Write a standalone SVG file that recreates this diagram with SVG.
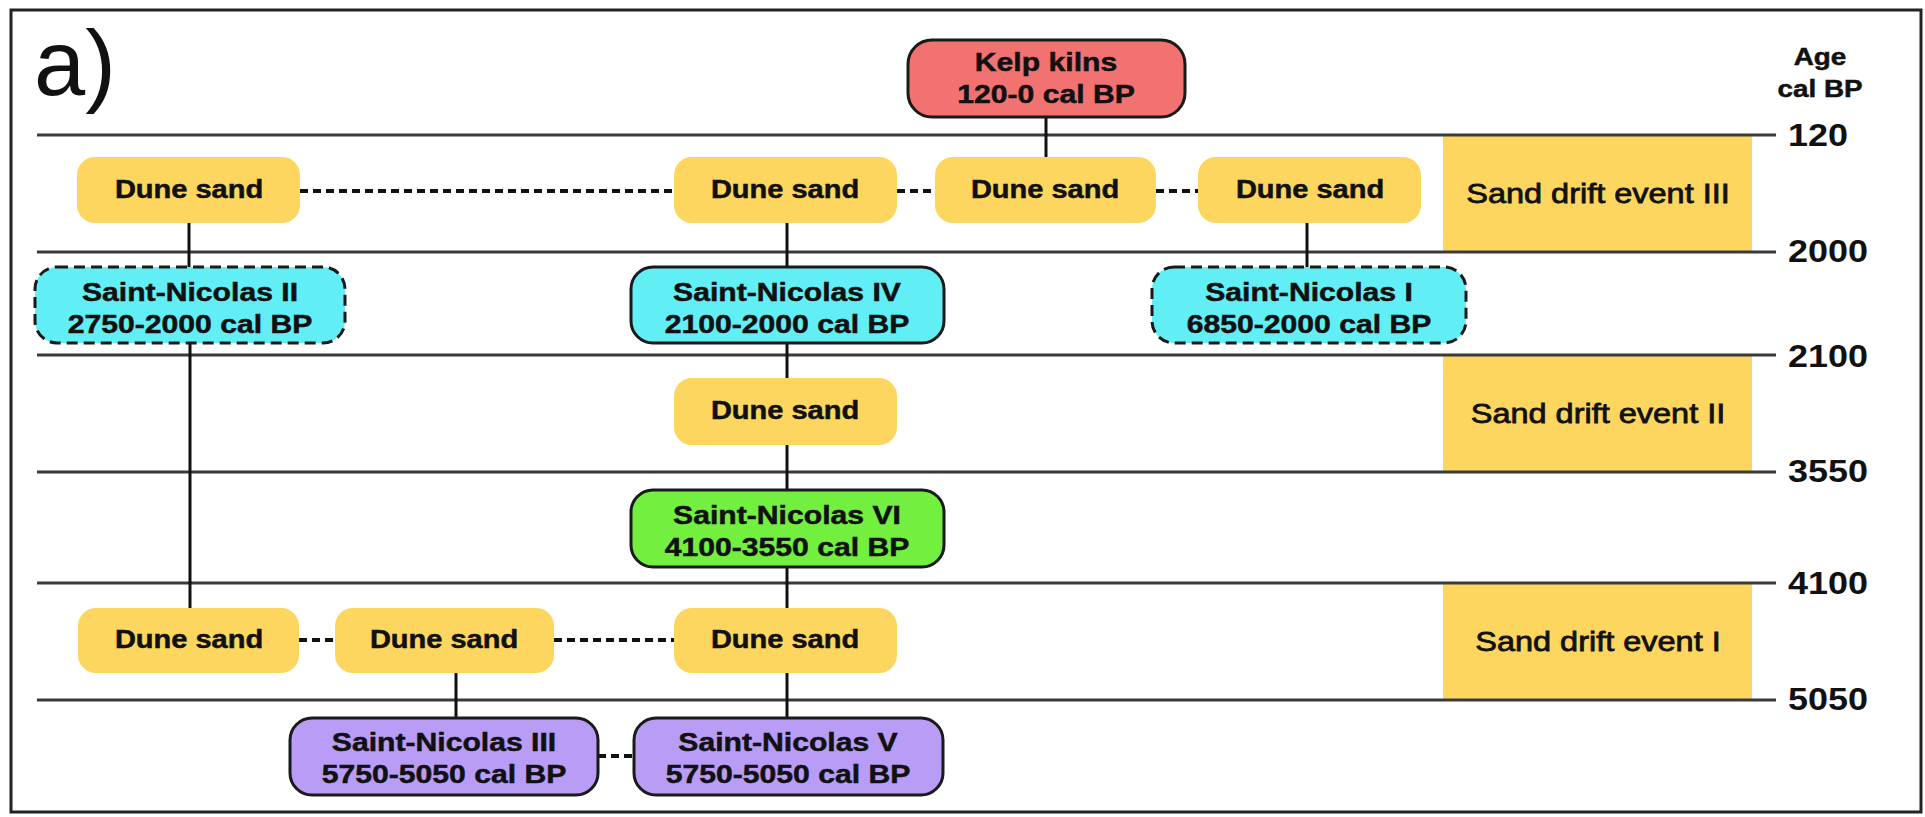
<svg xmlns="http://www.w3.org/2000/svg" width="1925" height="817" viewBox="0 0 1925 817">
<style>
.b{font-family:"Liberation Sans",Arial,sans-serif;font-weight:bold;font-size:26px;text-anchor:middle;fill:#111;stroke:#111;stroke-width:0.5}
.n{font-family:"Liberation Sans",Arial,sans-serif;font-weight:normal;font-size:28px;text-anchor:middle;fill:#111;stroke:#111;stroke-width:0.8}
.age{font-family:"Liberation Sans",Arial,sans-serif;font-weight:bold;font-size:31px;fill:#111}
.sand{fill:#fcd65e}
.cy{fill:#62eef5;stroke:#1a1a1a;stroke-width:3}
.dash{stroke-dasharray:11 6}
.grid{stroke:#3a3a3a;stroke-width:3}
.solid{stroke:#111;stroke-width:3;fill:none}
.dot{stroke:#111;stroke-width:4;stroke-dasharray:8 5;fill:none}
</style>
<rect x="0" y="0" width="1925" height="817" fill="#fff"/>
<rect x="11" y="10" width="1910" height="802" fill="none" stroke="#222" stroke-width="3"/>
<text x="34" y="95" font-family="Liberation Sans,Arial,sans-serif" font-size="92" fill="#111">a)</text>

<g id="timeline">
<rect x="1443" y="135" width="309" height="117" class="sand"/>
<rect x="1443" y="355" width="309" height="117" class="sand"/>
<rect x="1443" y="583" width="309" height="117" class="sand"/>
<line x1="37" y1="135" x2="1776" y2="135" class="grid"/>
<line x1="37" y1="252" x2="1776" y2="252" class="grid"/>
<line x1="37" y1="355" x2="1776" y2="355" class="grid"/>
<line x1="37" y1="472" x2="1776" y2="472" class="grid"/>
<line x1="37" y1="583" x2="1776" y2="583" class="grid"/>
<line x1="37" y1="700" x2="1776" y2="700" class="grid"/>
<text class="n" transform="translate(1598,203) scale(1.16,1)">Sand drift event III</text>
<text class="n" transform="translate(1598,423) scale(1.16,1)">Sand drift event II</text>
<text class="n" transform="translate(1598,651) scale(1.16,1)">Sand drift event I</text>
<text class="b" style="font-size:24px" transform="translate(1820,65) scale(1.16,1)">Age</text>
<text class="b" style="font-size:24px" transform="translate(1820,97) scale(1.16,1)">cal BP</text>
<text class="age" transform="translate(1788,146) scale(1.16,1)">120</text>
<text class="age" transform="translate(1788,262) scale(1.16,1)">2000</text>
<text class="age" transform="translate(1788,367) scale(1.16,1)">2100</text>
<text class="age" transform="translate(1788,482) scale(1.16,1)">3550</text>
<text class="age" transform="translate(1788,594) scale(1.16,1)">4100</text>
<text class="age" transform="translate(1788,710) scale(1.16,1)">5050</text>
</g>

<g id="connectors">
<line x1="1046" y1="117" x2="1046" y2="157" class="solid"/>
<line x1="300" y1="191" x2="674" y2="191" class="dot"/>
<line x1="897" y1="191" x2="935" y2="191" class="dot"/>
<line x1="1156" y1="191" x2="1198" y2="191" class="dot"/>
<line x1="189" y1="223" x2="189" y2="267" class="solid"/>
<line x1="787" y1="223" x2="787" y2="267" class="solid"/>
<line x1="1307" y1="223" x2="1307" y2="267" class="solid"/>
<line x1="190" y1="343" x2="190" y2="608" class="solid"/>
<line x1="787" y1="343" x2="787" y2="378" class="solid"/>
<line x1="787" y1="445" x2="787" y2="490" class="solid"/>
<line x1="787" y1="567" x2="787" y2="608" class="solid"/>
<line x1="299" y1="640" x2="335" y2="640" class="dot"/>
<line x1="554" y1="640" x2="674" y2="640" class="dot"/>
<line x1="456" y1="673" x2="456" y2="718" class="solid"/>
<line x1="787" y1="673" x2="787" y2="718" class="solid"/>
<line x1="598" y1="756" x2="634" y2="756" class="dot"/>
</g>

<g id="kelp">
<rect x="908" y="40" width="277" height="77" rx="24" fill="#f27272" stroke="#1a1a1a" stroke-width="3"/>
<text class="b" transform="translate(1046,71) scale(1.16,1)">Kelp kilns</text>
<text class="b" transform="translate(1046,103) scale(1.16,1)">120-0 cal BP</text>
</g>

<g id="dune1"><rect x="77" y="157" width="223" height="66" rx="18" class="sand"/><text class="b" style="font-size:25px" transform="translate(189,198) scale(1.16,1)">Dune sand</text></g>
<g id="dune2"><rect x="674" y="157" width="223" height="66" rx="18" class="sand"/><text class="b" style="font-size:25px" transform="translate(785,198) scale(1.16,1)">Dune sand</text></g>
<g id="dune3"><rect x="935" y="157" width="221" height="66" rx="18" class="sand"/><text class="b" style="font-size:25px" transform="translate(1045,198) scale(1.16,1)">Dune sand</text></g>
<g id="dune4"><rect x="1198" y="157" width="223" height="66" rx="18" class="sand"/><text class="b" style="font-size:25px" transform="translate(1310,198) scale(1.16,1)">Dune sand</text></g>

<g id="sn2"><rect x="35" y="267" width="310" height="76" rx="22" class="cy dash"/><text class="b" transform="translate(190,301) scale(1.16,1)">Saint-Nicolas II</text><text class="b" transform="translate(190,333) scale(1.16,1)">2750-2000 cal BP</text></g>
<g id="sn4"><rect x="631" y="267" width="313" height="76" rx="22" class="cy"/><text class="b" transform="translate(787,301) scale(1.16,1)">Saint-Nicolas IV</text><text class="b" transform="translate(787,333) scale(1.16,1)">2100-2000 cal BP</text></g>
<g id="sn1"><rect x="1152" y="267" width="314" height="76" rx="22" class="cy dash"/><text class="b" transform="translate(1309,301) scale(1.16,1)">Saint-Nicolas I</text><text class="b" transform="translate(1309,333) scale(1.16,1)">6850-2000 cal BP</text></g>

<g id="dune5"><rect x="674" y="378" width="223" height="67" rx="18" class="sand"/><text class="b" style="font-size:25px" transform="translate(785,419) scale(1.16,1)">Dune sand</text></g>

<g id="sn6"><rect x="631" y="490" width="313" height="77" rx="22" fill="#72ef3f" stroke="#1a1a1a" stroke-width="3"/><text class="b" transform="translate(787,524) scale(1.16,1)">Saint-Nicolas VI</text><text class="b" transform="translate(787,556) scale(1.16,1)">4100-3550 cal BP</text></g>

<g id="dune6"><rect x="78" y="608" width="221" height="65" rx="18" class="sand"/><text class="b" style="font-size:25px" transform="translate(189,648) scale(1.16,1)">Dune sand</text></g>
<g id="dune7"><rect x="335" y="608" width="219" height="65" rx="18" class="sand"/><text class="b" style="font-size:25px" transform="translate(444,648) scale(1.16,1)">Dune sand</text></g>
<g id="dune8"><rect x="674" y="608" width="223" height="65" rx="18" class="sand"/><text class="b" style="font-size:25px" transform="translate(785,648) scale(1.16,1)">Dune sand</text></g>

<g id="sn3"><rect x="290" y="718" width="308" height="77" rx="22" fill="#b89cf6" stroke="#1a1a1a" stroke-width="3"/><text class="b" transform="translate(444,751) scale(1.16,1)">Saint-Nicolas III</text><text class="b" transform="translate(444,783) scale(1.16,1)">5750-5050 cal BP</text></g>
<g id="sn5"><rect x="634" y="718" width="309" height="77" rx="22" fill="#b89cf6" stroke="#1a1a1a" stroke-width="3"/><text class="b" transform="translate(788,751) scale(1.16,1)">Saint-Nicolas V</text><text class="b" transform="translate(788,783) scale(1.16,1)">5750-5050 cal BP</text></g>
</svg>
